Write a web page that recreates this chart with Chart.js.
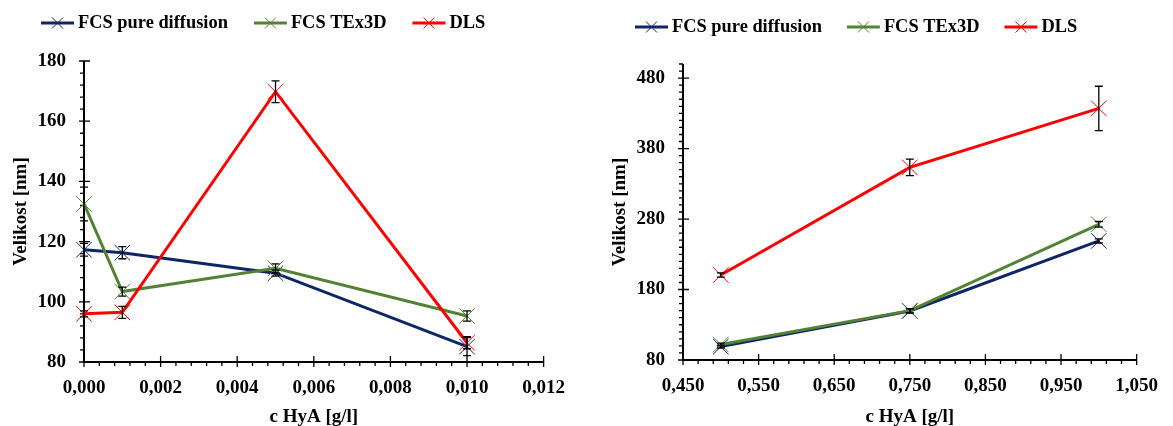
<!DOCTYPE html>
<html><head><meta charset="utf-8">
<script src="https://cdn.jsdelivr.net/npm/chart.js@4"></script>
<style>
html,body{margin:0;padding:0;background:#fff;}
#wrap{position:relative;width:1173px;height:426px;overflow:hidden;background:#fff;}
#c1{position:absolute;left:0;top:0;}
#c2{position:absolute;left:580px;top:0;}
</style></head><body>
<div id="wrap">
<canvas id="c1" width="580" height="426"></canvas>
<canvas id="c2" width="593" height="426"></canvas>
</div>
<script>
// ---------- data ----------
const seriesNames = ['FCS pure diffusion', 'FCS TEx3D', 'DLS'];
const xTitle = 'c HyA [g/l]';
const yTitle = 'Velikost [nm]';

// left chart
const leftConc    = [0, 0.001, 0.005, 0.010];
const leftPure    = [117.3, 116.3, 109.5, 85.1];
const leftPureErr = [2.1, 2.0, 1.0, 3.0];
const leftTex     = [132.5, 103.4, 111.1, 95.3];
const leftTexErr  = [5.6, 1.5, 1.5, 1.7];
const leftDls     = [96.0, 96.5, 169.8, 86.4];
const leftDlsErr  = [1.0, 2.0, 3.6, 2.0];
const leftXTicks  = [0, 0.002, 0.004, 0.006, 0.008, 0.010, 0.012];
const leftYTicks  = [80, 100, 120, 140, 160, 180];

// right chart
const rightConc    = [0.5, 0.75, 1.0];
const rightPure    = [99.0, 149.5, 249.0];
const rightPureErr = [2.0, 3.0, 3.0];
const rightTex     = [102.0, 150.0, 272.5];
const rightTexErr  = [2.0, 3.0, 4.0];
const rightDls     = [200.6, 353.3, 437.0];
const rightDlsErr  = [3.0, 11.8, 31.4];
const rightXTicks  = [0.45, 0.55, 0.65, 0.75, 0.85, 0.95, 1.05];
const rightYTicks  = [80, 180, 280, 380, 480];

// ---------- styling ----------
const COLORS = ['#0e2566', '#548235', '#ff0000'];
const FONT = '"Liberation Serif", "Times New Roman", serif';

// ---------- plugins ----------
const axisPlugin = {
  id: 'excelAxes',
  beforeDatasetsDraw(chart, args, o) {
    const ctx = chart.ctx, xs = chart.scales.x, ys = chart.scales.y;
    const ax = xs.getPixelForValue(xs.min), axR = xs.getPixelForValue(xs.max);
    const ay = ys.getPixelForValue(ys.min), ayT = ys.getPixelForValue(ys.max);
    ctx.save();
    ctx.strokeStyle = '#000';
    ctx.lineWidth = o.axisWidth;
    ctx.beginPath();
    ctx.moveTo(ax, ayT); ctx.lineTo(ax, ay); ctx.lineTo(axR, ay);
    ctx.stroke();
    ctx.lineWidth = o.tickWidth;
    ctx.beginPath();
    const ny = Math.round((ys.max - ys.min) / o.yMinor);
    for (let i = 0; i <= ny; i++) {
      const y = ys.getPixelForValue(ys.min + i * o.yMinor);
      ctx.moveTo(ax - o.minorLen, y); ctx.lineTo(ax, y);
    }
    const nx = Math.round((xs.max - xs.min) / o.xMinor);
    for (let i = 0; i <= nx; i++) {
      const x = xs.getPixelForValue(xs.min + i * o.xMinor);
      ctx.moveTo(x, ay); ctx.lineTo(x, ay + o.minorLen);
    }
    ys.ticks.forEach(t => {
      const y = ys.getPixelForValue(t.value);
      ctx.moveTo(ax - o.majorOut, y); ctx.lineTo(ax + o.majorIn, y);
    });
    xs.ticks.forEach(t => {
      const x = xs.getPixelForValue(t.value);
      ctx.moveTo(x, ay - o.majorIn); ctx.lineTo(x, ay + o.majorOut);
    });
    ctx.stroke();
    ctx.restore();
  }
};

const errorBarPlugin = {
  id: 'errorBars',
  afterDatasetsDraw(chart, args, o) {
    const ctx = chart.ctx, xs = chart.scales.x, ys = chart.scales.y;
    ctx.save();
    ctx.strokeStyle = '#000';
    ctx.lineWidth = o.width;
    chart.data.datasets.forEach(ds => {
      if (!ds.errors) return;
      ds.data.forEach((p, i) => {
        const e = ds.errors[i];
        const x = xs.getPixelForValue(p.x);
        const yt = ys.getPixelForValue(p.y + e), yb = ys.getPixelForValue(p.y - e);
        ctx.beginPath();
        ctx.moveTo(x, yt); ctx.lineTo(x, yb);
        ctx.moveTo(x - o.cap, yt); ctx.lineTo(x + o.cap, yt);
        ctx.moveTo(x - o.cap, yb); ctx.lineTo(x + o.cap, yb);
        ctx.stroke();
      });
    });
    ctx.restore();
  }
};

const legendPlugin = {
  id: 'lineLegend',
  afterDraw(chart, args, o) {
    const ctx = chart.ctx;
    ctx.save();
    ctx.font = 'bold ' + o.size + 'px ' + FONT;
    ctx.textBaseline = 'middle';
    ctx.textAlign = 'left';
    let x = o.x; const y = o.y;
    chart.data.datasets.forEach(ds => {
      ctx.strokeStyle = ds.borderColor;
      ctx.lineWidth = 3;
      ctx.beginPath(); ctx.moveTo(x, y); ctx.lineTo(x + o.lineLen, y); ctx.stroke();
      const cx = x + o.lineLen / 2;
      ctx.lineWidth = 1;
      ctx.beginPath();
      ctx.moveTo(cx - o.mark, y - o.mark); ctx.lineTo(cx + o.mark, y + o.mark);
      ctx.moveTo(cx - o.mark, y + o.mark); ctx.lineTo(cx + o.mark, y - o.mark);
      ctx.stroke();
      x += o.lineLen + o.gap;
      ctx.fillStyle = '#000';
      ctx.fillText(ds.label, x, y);
      x += ctx.measureText(ds.label).width + o.itemGap;
    });
    ctx.restore();
  }
};

// ---------- builders ----------
function makeDataset(i, xs, ys, errs) {
  return {
    label: seriesNames[i],
    data: xs.map((x, k) => ({x: x, y: ys[k]})),
    errors: errs,
    borderColor: COLORS[i],
    backgroundColor: COLORS[i],
    borderWidth: 3,
    showLine: true,
    tension: 0,
    fill: false,
    pointStyle: 'crossRot',
    pointRadius: 11,
    pointBorderWidth: 1,
    pointBorderColor: COLORS[i],
    pointBackgroundColor: COLORS[i],
    clip: false,
    order: 3 - i
  };
}

function makeChart(id, cfg) {
  const tickFont = {family: FONT, size: 19, weight: 'bold'};
  const titleFont = {family: FONT, size: 19, weight: 'bold', lineHeight: 0.9};
  return new Chart(document.getElementById(id), {
    type: 'scatter',
    data: {
      datasets: [
        makeDataset(0, cfg.conc, cfg.pure, cfg.pureErr),
        makeDataset(1, cfg.conc, cfg.tex, cfg.texErr),
        makeDataset(2, cfg.conc, cfg.dls, cfg.dlsErr)
      ]
    },
    plugins: [axisPlugin, errorBarPlugin, legendPlugin],
    options: {
      responsive: false,
      animation: false,
      events: [],
      layout: {padding: {top: cfg.padTop, right: cfg.padRight, left: 0, bottom: 0}},
      plugins: {
        legend: {display: false},
        tooltip: {enabled: false},
        excelAxes: {axisWidth: 2, tickWidth: 1.3, minorLen: 4, majorOut: 5, majorIn: 6,
                    xMinor: cfg.xMinor, yMinor: cfg.yMinor},
        errorBars: {width: 1.3, cap: 4},
        lineLegend: {x: cfg.legX, y: cfg.legY, size: 18.4, lineLen: 33, gap: 4, itemGap: cfg.legGap, mark: 5.5}
      },
      scales: {
        x: {
          type: 'linear',
          min: cfg.xTicks[0], max: cfg.xTicks[cfg.xTicks.length - 1],
          afterBuildTicks: s => { s.ticks = cfg.xTicks.map(v => ({value: v})); },
          afterFit: s => { s.height = cfg.xAxisH; },
          grid: {display: false, drawTicks: false},
          border: {display: false},
          ticks: {
            font: tickFont, color: '#000', padding: 15, autoSkip: false, maxRotation: 0,
            callback: v => Number(v).toFixed(3).replace('.', ',')
          },
          title: {display: true, text: xTitle, font: titleFont, color: '#000', padding: {top: 0, bottom: 0}}
        },
        y: {
          type: 'linear',
          min: cfg.yTicks[0], max: cfg.yMax,
          afterBuildTicks: s => { s.ticks = cfg.yTicks.map(v => ({value: v})); },
          afterFit: s => { s.width = cfg.yAxisW; },
          grid: {display: false, drawTicks: false},
          border: {display: false},
          ticks: {font: tickFont, color: '#000', padding: 18, autoSkip: false},
          title: {display: true, text: yTitle, font: titleFont, color: '#000', padding: {top: cfg.yTitlePad, bottom: 0}}
        }
      }
    }
  });
}

makeChart('c1', {
  conc: leftConc, pure: leftPure, pureErr: leftPureErr, tex: leftTex, texErr: leftTexErr,
  dls: leftDls, dlsErr: leftDlsErr, xTicks: leftXTicks, yTicks: leftYTicks, yMax: 180,
  xMinor: 0.0004, yMinor: 4, padTop: 61, padRight: 29, xAxisH: 64, yAxisW: 84,
  yTitlePad: 12.4, legX: 41, legY: 23, legGap: 26
});

makeChart('c2', {
  conc: rightConc, pure: rightPure, pureErr: rightPureErr, tex: rightTex, texErr: rightTexErr,
  dls: rightDls, dlsErr: rightDlsErr, xTicks: rightXTicks, yTicks: rightYTicks, yMax: 500,
  xMinor: 0.02, yMinor: 10, padTop: 64, padRight: 24, xAxisH: 66, yAxisW: 103,
  yTitlePad: 31.4, legX: 55, legY: 27, legGap: 25
});
</script>
</body></html>
